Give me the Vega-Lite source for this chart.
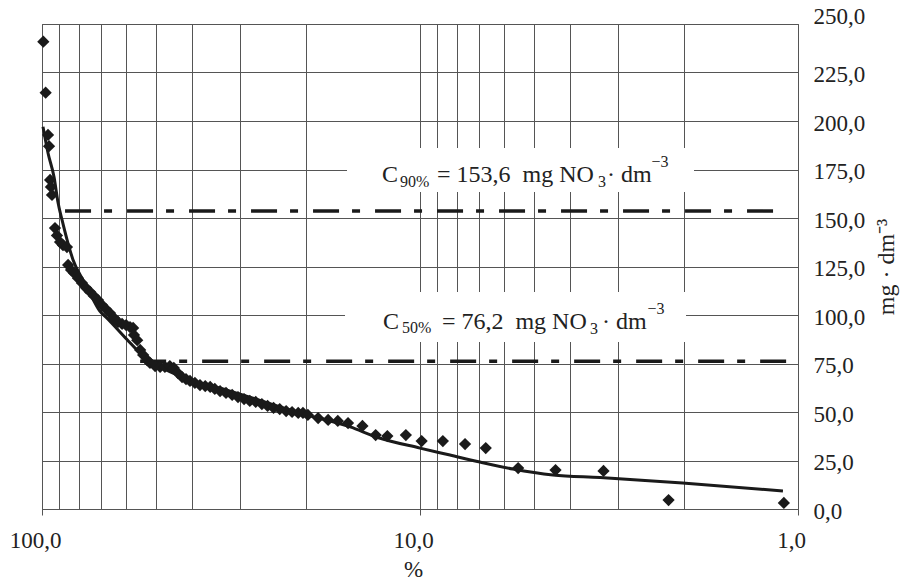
{
  "$schema": "https://vega.github.io/schema/vega-lite/v6.json",
  "width": 756,
  "height": 485,
  "autosize": {"type": "none"},
  "padding": {"left": 42, "top": 24, "right": 110, "bottom": 71},
  "background": "white",
  "config": {
    "view": {"stroke": "#555", "strokeWidth": 1},
    "font": "Liberation Serif"
  },
  "data": {"values": [{"anchor": 1}]},
  "datasets": {
    "points": [
      {"p": 99.2, "c": 240.9}, {"p": 97.8, "c": 214.6}, {"p": 96.4, "c": 192.8}, {"p": 95.8, "c": 187},
      {"p": 95.2, "c": 169.6}, {"p": 94.7, "c": 166}, {"p": 94.1, "c": 161.9}, {"p": 92.4, "c": 144.8},
      {"p": 91.3, "c": 141}, {"p": 89.6, "c": 137.6}, {"p": 88.0, "c": 136}, {"p": 85.9, "c": 135},
      {"p": 85.3, "c": 125.8}, {"p": 83.8, "c": 123.2}, {"p": 82.3, "c": 121.6}, {"p": 80.3, "c": 119},
      {"p": 78.4, "c": 116.5}, {"p": 76.5, "c": 114}, {"p": 74.6, "c": 111.9}, {"p": 72.9, "c": 109.8},
      {"p": 71.1, "c": 107.7}, {"p": 69.4, "c": 105.2}, {"p": 67.7, "c": 103}, {"p": 66.1, "c": 101},
      {"p": 64.5, "c": 98.5}, {"p": 62.9, "c": 96.4}, {"p": 61.4, "c": 95.4}, {"p": 59.9, "c": 94.8},
      {"p": 58.5, "c": 93.8}, {"p": 57.4, "c": 93.3}, {"p": 57.1, "c": 89.7}, {"p": 56.0, "c": 87},
      {"p": 55.0, "c": 82}, {"p": 54.0, "c": 79.4}, {"p": 52.7, "c": 76.8}, {"p": 51.8, "c": 75.3},
      {"p": 50.2, "c": 73.7}, {"p": 48.7, "c": 73.2}, {"p": 47.3, "c": 73.2}, {"p": 45.9, "c": 73.7},
      {"p": 44.8, "c": 72.7}, {"p": 43.7, "c": 70.1}, {"p": 42.6, "c": 68}, {"p": 41.6, "c": 67},
      {"p": 40.6, "c": 66}, {"p": 39.4, "c": 65}, {"p": 38.2, "c": 63.9}, {"p": 37.0, "c": 63.4},
      {"p": 35.9, "c": 62.9}, {"p": 34.9, "c": 61.9}, {"p": 33.8, "c": 60.8}, {"p": 32.6, "c": 59.8},
      {"p": 31.4, "c": 58.8}, {"p": 30.3, "c": 57.7}, {"p": 29.2, "c": 56.7}, {"p": 28.2, "c": 55.7},
      {"p": 27.2, "c": 55.2}, {"p": 26.2, "c": 54.1}, {"p": 25.3, "c": 53.1}, {"p": 24.4, "c": 52.1},
      {"p": 23.5, "c": 51.5}, {"p": 22.6, "c": 50.5}, {"p": 21.8, "c": 50}, {"p": 21.0, "c": 49.5},
      {"p": 20.4, "c": 49.5}, {"p": 19.8, "c": 48.5}, {"p": 18.6, "c": 46.9}, {"p": 17.5, "c": 45.9},
      {"p": 16.5, "c": 45.4}, {"p": 15.5, "c": 44.3}, {"p": 14.2, "c": 42.8}, {"p": 13.1, "c": 38.1},
      {"p": 12.2, "c": 37.6}, {"p": 10.9, "c": 38.1}, {"p": 9.9, "c": 35}, {"p": 8.7, "c": 35},
      {"p": 7.6, "c": 33.5}, {"p": 6.7, "c": 31.4}, {"p": 5.5, "c": 21.1}, {"p": 4.38, "c": 20.1},
      {"p": 3.27, "c": 19.6}, {"p": 2.2, "c": 4.6}, {"p": 1.09, "c": 3.1}
    ],
    "curve": [
      {"p": 99.4, "c": 197}, {"p": 96.4, "c": 183.5}, {"p": 92.9, "c": 171}, {"p": 90.7, "c": 158},
      {"p": 88.5, "c": 149}, {"p": 85.9, "c": 139}, {"p": 82.8, "c": 128.5}, {"p": 77.9, "c": 118},
      {"p": 73.7, "c": 109}, {"p": 70.3, "c": 102}, {"p": 67.3, "c": 98.4}, {"p": 59.6, "c": 87.4},
      {"p": 55.0, "c": 80.4}, {"p": 49.6, "c": 74.2}, {"p": 41.3, "c": 67}, {"p": 32.4, "c": 61.3},
      {"p": 20.8, "c": 49.5}, {"p": 15.3, "c": 42.3}, {"p": 13.0, "c": 37}, {"p": 10.0, "c": 31.4},
      {"p": 8.33, "c": 27.8}, {"p": 6.94, "c": 24.2}, {"p": 5.68, "c": 20.6}, {"p": 4.45, "c": 17.5},
      {"p": 3.34, "c": 16.2}, {"p": 2.02, "c": 13.4}, {"p": 1.096, "c": 9.3}
    ],
    "levels": [
      {"name": "C90%", "c": 153.6, "from": 86.9, "to": 1.11},
      {"name": "C50%", "c": 76.2, "from": 55.0, "to": 1.075}
    ]
  },
  "layer": [
    {
      "data": {"name": "points"},
      "mark": {"type": "point", "shape": "diamond", "filled": true, "size": 150, "color": "#1a1a1a", "opacity": 0},
      "encoding": {
        "x": {
          "field": "p", "type": "quantitative",
          "scale": {"type": "log", "domain": [1, 100], "reverse": true},
          "axis": {
            "orient": "bottom",
            "values": [1, 2, 3, 4, 5, 6, 7, 8, 9, 10, 20, 30, 40, 50, 60, 70, 80, 90, 100],
            "grid": true, "gridColor": "#555", "gridWidth": 1,
            "domain": false,
            "tickSize": 6, "tickColor": "#555",
            "tickOpacity": {"condition": {"test": "datum.value == 1 || datum.value == 10 || datum.value == 100", "value": 1}, "value": 0},
            "labelExpr": "(datum.value == 1 || datum.value == 10 || datum.value == 100) ? replace(format(datum.value, '.1f'), '.', ',') : ''",
            "labelFlush": false, "labelOverlap": false, "labelBound": false,
            "labelPadding": 14, "labelOffset": -7,
            "labelFont": "Liberation Serif", "labelFontSize": 23, "labelColor": "#222",
            "title": "%", "titleFont": "Liberation Serif", "titleFontSize": 23, "titleFontWeight": "normal",
            "titleColor": "#222", "titlePadding": 6, "titleX": 371
          }
        },
        "y": {
          "field": "c", "type": "quantitative",
          "scale": {"domain": [0, 250], "nice": false},
          "axis": {
            "orient": "right",
            "values": [0, 25, 50, 75, 100, 125, 150, 175, 200, 225, 250],
            "grid": true, "gridColor": "#555", "gridWidth": 1,
            "domain": false, "ticks": false,
            "labelPadding": 15, "labelAlign": "left", "labelBaseline": "middle",
            "labelOffset": {"condition": {"test": "datum.value == 250", "value": -8}, "value": 2},
            "labelExpr": "replace(format(datum.value, '.1f'), '.', ',')",
            "labelFlush": false, "labelOverlap": false, "labelBound": false,
            "labelFont": "Liberation Serif", "labelFontSize": 23, "labelColor": "#222",
            "title": "mg · dm⁻³", "titleFont": "Liberation Serif", "titleFontSize": 24, "titleFontWeight": "normal",
            "titleColor": "#222", "titleAngle": 270, "titlePadding": 34
          }
        }
      }
    },
    {
      "mark": {"type": "rect", "fill": "white", "stroke": null},
      "encoding": {
        "x": {"datum": 15.6, "type": "quantitative"},
        "x2": {"datum": 1.884},
        "y": {"datum": 186.1, "type": "quantitative"},
        "y2": {"datum": 163.4}
      }
    },
    {
      "mark": {"type": "rect", "fill": "white", "stroke": null},
      "encoding": {
        "x": {"datum": 15.79, "type": "quantitative"},
        "x2": {"datum": 1.978},
        "y": {"datum": 111.9, "type": "quantitative"},
        "y2": {"datum": 86.1}
      }
    },
    {
      "data": {"name": "levels"},
      "mark": {"type": "rule", "color": "#1a1a1a", "strokeWidth": 3.5, "strokeDash": [26, 13, 8, 15], "strokeCap": "butt"},
      "encoding": {
        "x": {"field": "from", "type": "quantitative"},
        "x2": {"field": "to"},
        "y": {"field": "c", "type": "quantitative"}
      }
    },
    {
      "data": {"name": "curve"},
      "mark": {"type": "line", "color": "#1a1a1a", "strokeWidth": 3, "interpolate": "monotone"},
      "encoding": {
        "x": {"field": "p", "type": "quantitative"},
        "y": {"field": "c", "type": "quantitative"}
      }
    },
    {
      "data": {"name": "points"},
      "mark": {"type": "point", "shape": "diamond", "filled": true, "size": 150, "color": "#1a1a1a", "opacity": 1},
      "encoding": {
        "x": {"field": "p", "type": "quantitative"},
        "y": {"field": "c", "type": "quantitative"}
      }
    },
    {"mark": {"type": "text", "align": "left", "baseline": "alphabetic", "fontSize": 24, "font": "Liberation Serif", "color": "#222"},
     "encoding": {"x": {"datum": 12.61, "type": "quantitative"}, "y": {"datum": 168.6, "type": "quantitative"}, "text": {"value": "C"}}},
    {"mark": {"type": "text", "align": "left", "baseline": "alphabetic", "fontSize": 16, "font": "Liberation Serif", "color": "#222"},
     "encoding": {"x": {"datum": 11.3, "type": "quantitative"}, "y": {"datum": 166.0, "type": "quantitative"}, "text": {"value": "90%"}}},
    {"mark": {"type": "text", "align": "left", "baseline": "alphabetic", "fontSize": 24, "font": "Liberation Serif", "color": "#222"},
     "encoding": {"x": {"datum": 9.02, "type": "quantitative"}, "y": {"datum": 168.6, "type": "quantitative"}, "text": {"value": "= 153,6 \u00a0mg NO"}}},
    {"mark": {"type": "text", "align": "left", "baseline": "alphabetic", "fontSize": 16, "font": "Liberation Serif", "color": "#222"},
     "encoding": {"x": {"datum": 3.38, "type": "quantitative"}, "y": {"datum": 166.0, "type": "quantitative"}, "text": {"value": "3"}}},
    {"mark": {"type": "text", "align": "left", "baseline": "alphabetic", "fontSize": 24, "font": "Liberation Serif", "color": "#222"},
     "encoding": {"x": {"datum": 3.2, "type": "quantitative"}, "y": {"datum": 168.6, "type": "quantitative"}, "text": {"value": "· dm"}}},
    {"mark": {"type": "text", "align": "left", "baseline": "alphabetic", "fontSize": 16, "font": "Liberation Serif", "color": "#222"},
     "encoding": {"x": {"datum": 2.44, "type": "quantitative"}, "y": {"datum": 176.5, "type": "quantitative"}, "text": {"value": "−3"}}},
    {"mark": {"type": "text", "align": "left", "baseline": "alphabetic", "fontSize": 24, "font": "Liberation Serif", "color": "#222"},
     "encoding": {"x": {"datum": 12.53, "type": "quantitative"}, "y": {"datum": 92.8, "type": "quantitative"}, "text": {"value": "C"}}},
    {"mark": {"type": "text", "align": "left", "baseline": "alphabetic", "fontSize": 16, "font": "Liberation Serif", "color": "#222"},
     "encoding": {"x": {"datum": 11.16, "type": "quantitative"}, "y": {"datum": 90.5, "type": "quantitative"}, "text": {"value": "50%"}}},
    {"mark": {"type": "text", "align": "left", "baseline": "alphabetic", "fontSize": 24, "font": "Liberation Serif", "color": "#222"},
     "encoding": {"x": {"datum": 8.75, "type": "quantitative"}, "y": {"datum": 92.8, "type": "quantitative"}, "text": {"value": "= 76,2 \u00a0mg NO"}}},
    {"mark": {"type": "text", "align": "left", "baseline": "alphabetic", "fontSize": 16, "font": "Liberation Serif", "color": "#222"},
     "encoding": {"x": {"datum": 3.55, "type": "quantitative"}, "y": {"datum": 90.2, "type": "quantitative"}, "text": {"value": "3"}}},
    {"mark": {"type": "text", "align": "left", "baseline": "alphabetic", "fontSize": 24, "font": "Liberation Serif", "color": "#222"},
     "encoding": {"x": {"datum": 3.3, "type": "quantitative"}, "y": {"datum": 92.8, "type": "quantitative"}, "text": {"value": "· dm"}}},
    {"mark": {"type": "text", "align": "left", "baseline": "alphabetic", "fontSize": 16, "font": "Liberation Serif", "color": "#222"},
     "encoding": {"x": {"datum": 2.5, "type": "quantitative"}, "y": {"datum": 100.7, "type": "quantitative"}, "text": {"value": "−3"}}}
  ]
}
